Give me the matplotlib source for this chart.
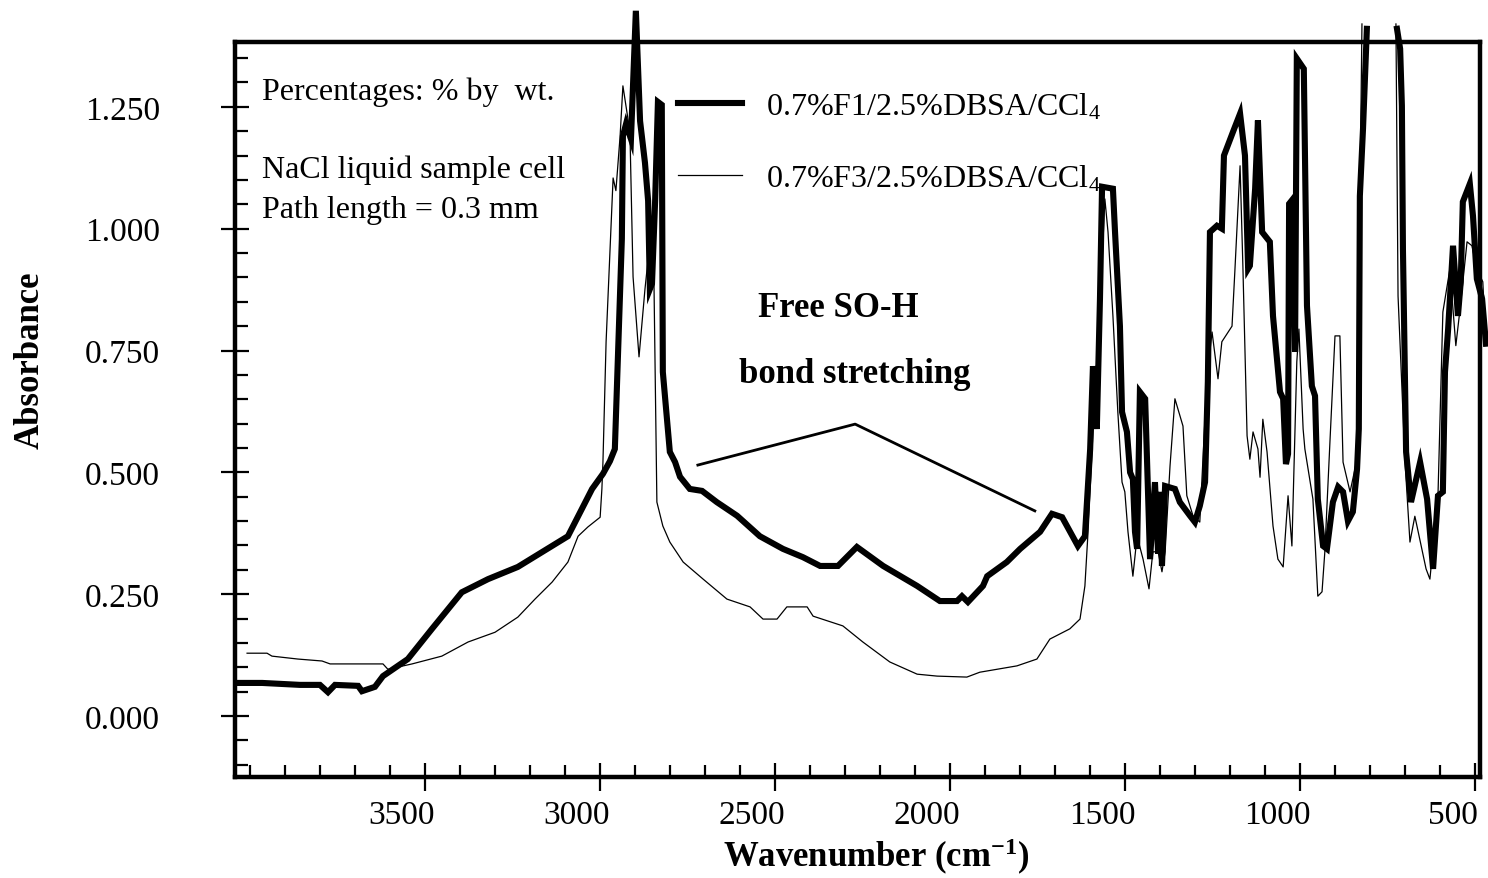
import numpy as np
import matplotlib
matplotlib.use("Agg")
import matplotlib.pyplot as plt
from matplotlib.ticker import MultipleLocator, FixedLocator, FormatStrFormatter
from matplotlib.transforms import ScaledTranslation

# ---- FT-IR spectra (wavenumber in cm-1, absorbance) ----
wn_f1 = [4036, 3964, 3856, 3799, 3776, 3756, 3690, 3679, 3642, 3619, 3548, 3479,
         3394, 3319, 3234, 3136, 3091, 3051, 3022, 2991, 2971, 2957, 2948, 2937,
         2934, 2925, 2911, 2897, 2885, 2871, 2862, 2857, 2851, 2842, 2834, 2823,
         2820, 2800, 2785, 2771, 2743, 2708, 2666, 2608, 2543, 2477, 2420, 2371,
         2320, 2266, 2191, 2094, 2029, 1980, 1966, 1949, 1906, 1894, 1838, 1800,
         1743, 1709, 1680, 1635, 1615, 1600, 1592, 1581, 1572, 1566, 1535, 1529,
         1515, 1509, 1495, 1486, 1478, 1472, 1466, 1458, 1443, 1435, 1429, 1415,
         1406, 1401, 1395, 1386, 1358, 1344, 1315, 1301, 1287, 1272, 1264, 1258,
         1238, 1224, 1218, 1192, 1172, 1158, 1149, 1144, 1129, 1121, 1109, 1087,
         1078, 1058, 1049, 1041, 1035, 1032, 1021, 1015, 1010, 990, 981, 967,
         958, 950, 935, 924, 907, 892, 878, 864, 850, 838, 833, 830,
         821, 810, 767, 724, 715, 710, 707, 698, 684, 658, 638, 621,
         607, 593, 587, 578, 564, 550, 542, 536, 516, 507, 496, 481, 470]
abs_f1 = [0.068, 0.068, 0.064, 0.064, 0.049, 0.064, 0.062, 0.051, 0.060, 0.082, 0.117, 0.179,
          0.254, 0.281, 0.306, 0.349, 0.369, 0.425, 0.466, 0.497, 0.523, 0.548, 0.745, 0.979,
          1.190, 1.215, 1.184, 1.447, 1.221, 1.135, 1.057, 0.876, 0.887, 1.057, 1.260, 1.254,
          0.706, 0.542, 0.521, 0.491, 0.466, 0.462, 0.439, 0.411, 0.369, 0.343, 0.326, 0.308,
          0.308, 0.347, 0.308, 0.267, 0.236, 0.236, 0.246, 0.234, 0.267, 0.287, 0.316, 0.343,
          0.378, 0.415, 0.408, 0.349, 0.369, 0.548, 0.718, 0.589, 0.856, 1.086, 1.082, 0.993,
          0.800, 0.624, 0.583, 0.500, 0.486, 0.378, 0.343, 0.665, 0.651, 0.466, 0.322, 0.480,
          0.333, 0.460, 0.308, 0.472, 0.466, 0.439, 0.411, 0.398, 0.431, 0.480, 0.686, 0.993,
          1.006, 1.000, 1.150, 1.199, 1.236, 1.150, 0.918, 0.924, 1.082, 1.222, 0.993, 0.973,
          0.821, 0.665, 0.651, 0.517, 0.538, 1.051, 1.061, 0.747, 1.349, 1.328, 0.842, 0.677,
          0.657, 0.445, 0.349, 0.343, 0.439, 0.470, 0.460, 0.400, 0.419, 0.507, 0.589, 1.067,
          1.205, 1.410, np.nan, 1.410, 1.369, 1.252, 0.958, 0.542, 0.439, 0.521, 0.445, 0.302,
          0.452, 0.460, 0.706, 0.794, 0.965, 0.821, 0.891, 1.055, 1.092, 1.026, 0.897, 0.856, 0.764]

wn_f3 = [4007, 3950, 3936, 3862, 3793, 3770, 3619, 3605, 3536, 3451, 3376, 3299,
         3234, 3185, 3136, 3091, 3062, 3034, 2999, 2994, 2991, 2982, 2962, 2954,
         2942, 2934, 2914, 2905, 2888, 2871, 2848, 2837, 2820, 2800, 2762, 2705,
         2637, 2571, 2534, 2494, 2466, 2408, 2391, 2306, 2249, 2172, 2094, 2037,
         1952, 1915, 1809, 1752, 1715, 1658, 1629, 1615, 1606, 1592, 1581, 1558,
         1549, 1535, 1521, 1509, 1501, 1492, 1478, 1466, 1449, 1432, 1421, 1406,
         1395, 1386, 1372, 1358, 1335, 1324, 1306, 1287, 1266, 1252, 1235, 1224,
         1195, 1187, 1172, 1164, 1152, 1144, 1135, 1121, 1115, 1107, 1095, 1078,
         1064, 1049, 1035, 1024, 1010, 1004, 992, 987, 964, 950, 938, 930,
         915, 901, 887, 878, 858, 838, 833, 824, 767, 727, 721, 701,
         687, 673, 667, 641, 630, 607, 593, 573, 556, 544, 524, 510,
         496, 479, 470]
abs_f3 = [0.129, 0.129, 0.123, 0.117, 0.113, 0.107, 0.107, 0.096, 0.107, 0.123, 0.152, 0.172,
          0.203, 0.240, 0.275, 0.316, 0.369, 0.388, 0.408, 0.466, 0.521, 0.768, 1.104, 1.078,
          1.190, 1.293, 1.199, 0.901, 0.737, 0.876, 1.034, 0.439, 0.390, 0.357, 0.316, 0.281,
          0.240, 0.224, 0.199, 0.199, 0.224, 0.224, 0.205, 0.185, 0.152, 0.111, 0.086, 0.082,
          0.080, 0.090, 0.103, 0.117, 0.158, 0.179, 0.199, 0.267, 0.378, 0.583, 0.686, 1.061,
          0.993, 0.821, 0.624, 0.480, 0.460, 0.378, 0.287, 0.369, 0.322, 0.261, 0.337, 0.337,
          0.296, 0.337, 0.513, 0.651, 0.595, 0.452, 0.410, 0.398, 0.698, 0.788, 0.692, 0.768,
          0.800, 0.911, 1.129, 0.924, 0.575, 0.527, 0.583, 0.548, 0.490, 0.609, 0.542, 0.390,
          0.322, 0.306, 0.452, 0.349, 0.727, 0.794, 0.589, 0.548, 0.445, 0.246, 0.255, 0.337,
          0.569, 0.780, 0.780, 0.521, 0.460, 0.527, 0.856, 1.420, np.nan, 1.420, 0.862, 0.521,
          0.357, 0.410, 0.390, 0.302, 0.281, 0.452, 0.829, 0.917, 0.760, 0.835, 0.973, 0.965,
          0.917, 0.891, 0.764]

label_f1 = "0.7%F1/2.5%DBSA/CCl$_4$"
label_f3 = "0.7%F3/2.5%DBSA/CCl$_4$"
x_major_ticks = [3500, 3000, 2500, 2000, 1500, 1000, 500]
y_major_ticks = [0.0, 0.25, 0.5, 0.75, 1.0, 1.25]

plt.rcParams["font.family"] = ["Liberation Serif", "DejaVu Serif"]
plt.rcParams["mathtext.fontset"] = "custom"
plt.rcParams["mathtext.rm"] = "Liberation Serif"
plt.rcParams["mathtext.bf"] = "Liberation Serif:bold"
plt.rcParams["mathtext.default"] = "regular"

fig = plt.figure(figsize=(14.88, 8.79), dpi=100)
ax = fig.add_axes([0.1579, 0.1149, 0.8367, 0.8362])

line_f1, = ax.plot(wn_f1, abs_f1, color="black", lw=4.4, solid_joinstyle="miter",
                   clip_on=False, label=label_f1, zorder=3)
line_f3, = ax.plot(wn_f3, abs_f3, color="black", lw=0.9, clip_on=False,
                   label=label_f3, zorder=2)

ax.set_xlim(4041.6, 487.1)
ax.set_ylim(-0.125, 1.383)

# axes frame and ticks
for s in ax.spines.values():
    s.set_linewidth(3.2)
ax.xaxis.set_major_locator(FixedLocator(x_major_ticks))
ax.xaxis.set_minor_locator(MultipleLocator(100))
ax.yaxis.set_major_locator(FixedLocator(y_major_ticks))
ax.yaxis.set_minor_locator(MultipleLocator(0.05))
ax.yaxis.set_major_formatter(FormatStrFormatter("%.3f"))
ax.tick_params(which="major", direction="inout", length=20, width=1.6, labelsize=24)
ax.tick_params(which="minor", direction="in", length=9, width=1.6)
ax.tick_params(axis="y", which="major", pad=44)
ax.tick_params(axis="x", which="major", pad=6)

shift = ScaledTranslation(-0.23, 0, fig.dpi_scale_trans)
for lab in ax.get_xticklabels():
    lab.set_transform(lab.get_transform() + shift)

ax.set_xlabel("Wavenumber (cm$^{-1}$)", fontsize=25, fontweight="bold")
ax.xaxis.set_label_coords(0.515, -0.107)
ax.xaxis.label.set_va("center")
ax.set_ylabel("Absorbance", fontsize=25, fontweight="bold")
ax.yaxis.set_label_coords(-0.1647, 0.569)
ax.yaxis.label.set_va("center")

# sample notes
ax.text(0.0215, 0.9224, "Percentages: % by  wt.", transform=ax.transAxes,
        fontsize=23, va="baseline")
ax.text(0.0215, 0.8163, "NaCl liquid sample cell", transform=ax.transAxes,
        fontsize=23, va="baseline")
ax.text(0.0215, 0.7619, "Path length = 0.3 mm", transform=ax.transAxes,
        fontsize=23, va="baseline")

# band assignment
ax.plot([2720, 2271, 1758], [0.515, 0.599, 0.421], color="black", lw=2.0)
ax.text(2320, 0.839, "Free SO-H", fontsize=25, fontweight="bold",
        ha="center", va="center")
ax.text(2271, 0.702, "bond stretching", fontsize=25, fontweight="bold",
        ha="center", va="center")

ax.legend(handles=[line_f1, line_f3], loc="upper left",
          bbox_to_anchor=(678 / 1488, 1 - 92 / 879), bbox_transform=fig.transFigure,
          frameon=False, fontsize=23, borderpad=0, borderaxespad=0,
          handlelength=2.0, handletextpad=0.75, labelspacing=1.3)

fig.savefig("out.png", dpi=100)
